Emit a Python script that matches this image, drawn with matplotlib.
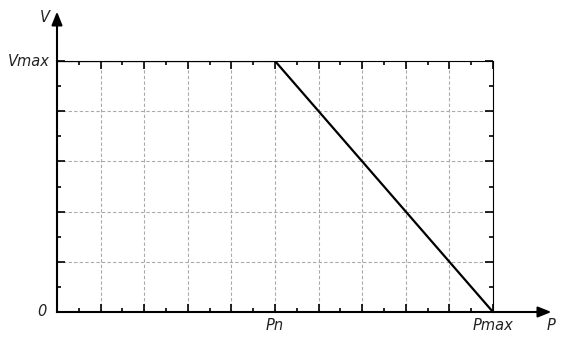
import matplotlib
matplotlib.use('Agg')
import matplotlib.pyplot as plt
import numpy as np

# power / voltage characteristic (grid units)
p_vals = [0, 5, 10]
v_vals = [5, 5, 0]
p_ticks = [5, 10]
p_labels = ['Pn', 'Pmax']

fig = plt.figure(figsize=(5.66, 3.45), dpi=100)
ax = fig.add_axes([57/566, 33/345, 436/566, 251/345])
ax.set_xlim(0, 10)
ax.set_ylim(0, 5)

ax.plot(p_vals, v_vals, color='black', lw=1.6, solid_capstyle='butt', zorder=5)

ax.set_xticks(np.arange(0, 11, 1))
ax.set_xticks(np.arange(0.5, 10, 1), minor=True)
ax.set_yticks(np.arange(0, 6, 1))
ax.set_yticks(np.arange(0.5, 5, 1), minor=True)
ax.set_xticklabels([])
ax.set_yticklabels([])
ax.tick_params(which='both', direction='in', top=True, right=True, width=1.2, color='black')
ax.tick_params(which='major', length=6)
ax.tick_params(which='minor', length=3)
ax.grid(True, which='major', color='#aaaaaa', ls=(0, (3, 2)), lw=0.8)

for s in ['top', 'right']:
    ax.spines[s].set_linewidth(0.8)
for s in ['left', 'bottom']:
    ax.spines[s].set_linewidth(1.5)

# axis arrows
arrow = dict(arrowstyle='-|>,head_length=0.8,head_width=0.32', color='black', lw=1.5,
             shrinkA=0, shrinkB=0)
ax.annotate('', xy=(0, 1.197), xytext=(0, 1.0), xycoords='axes fraction',
            arrowprops=arrow, annotation_clip=False)
ax.annotate('', xy=(1.134, 0), xytext=(1.0, 0), xycoords='axes fraction',
            arrowprops=arrow, annotation_clip=False)

ital = dict(style='italic', fontsize=10.5, color='#222222', family='DejaVu Sans')
ax.text(-0.016, 1.175, 'V', transform=ax.transAxes, ha='right', va='center', **ital)
ax.text(-0.016, 1.0, 'Vmax', transform=ax.transAxes, ha='right', va='center', **ital)
ax.text(-0.023, 0.0, '0', transform=ax.transAxes, ha='right', va='center', **ital)
for x, lab in zip(p_ticks, p_labels):
    ax.text(x, -0.26, lab, ha='center', va='center', **ital)
ax.text(1.122, -0.055, 'P', transform=ax.transAxes, ha='left', va='center', **ital)

fig.savefig('out.png', dpi=100)
